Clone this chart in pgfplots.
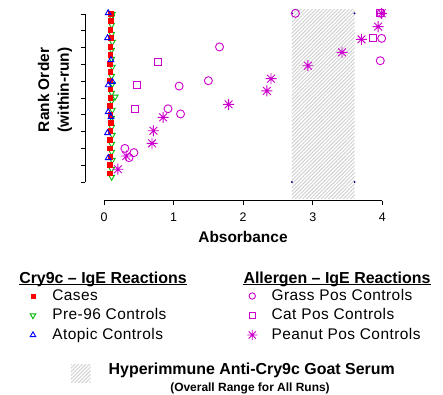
\documentclass[border=0pt]{standalone}
\usepackage{fontspec}
\setmainfont{Liberation Sans}
\newfontfamily\lsfont[LetterSpace=3]{Liberation Sans}
\usepackage{pgfplots}
\pgfplotsset{compat=1.18}
\usetikzlibrary{patterns.meta}
\definecolor{mag}{RGB}{204,0,204}
\definecolor{grn}{RGB}{0,185,0}
\definecolor{navy}{RGB}{0,0,128}
\pgfdeclareplotmark{rstar}{%
  \pgfpathmoveto{\pgfqpoint{-\pgfplotmarksize}{0pt}}\pgfpathlineto{\pgfqpoint{\pgfplotmarksize}{0pt}}%
  \pgfpathmoveto{\pgfqpoint{0pt}{-\pgfplotmarksize}}\pgfpathlineto{\pgfqpoint{0pt}{\pgfplotmarksize}}%
  \pgfpathmoveto{\pgfqpoint{-.7071\pgfplotmarksize}{-.7071\pgfplotmarksize}}\pgfpathlineto{\pgfqpoint{.7071\pgfplotmarksize}{.7071\pgfplotmarksize}}%
  \pgfpathmoveto{\pgfqpoint{-.7071\pgfplotmarksize}{.7071\pgfplotmarksize}}\pgfpathlineto{\pgfqpoint{.7071\pgfplotmarksize}{-.7071\pgfplotmarksize}}%
  \pgfusepathqstroke}
\begin{document}
\begin{tikzpicture}
\path[use as bounding box] (0,0) rectangle (443bp,395bp);
\begin{axis}[
  at={(85bp,194.3bp)}, anchor=south west,
  scale only axis, width=311bp, height=193.7bp,
  xmin=-0.273, xmax=4.196, ymin=-1.113, ymax=10.417,
  clip=false,
  axis lines*=left, axis line style={draw=none},
  tick align=outside, major tick length=4.5bp,
  tick style={black, line width=0.8bp},
  xtick={0,1,2,3,4}, ytick={0,1,...,10}, yticklabels={},
  /pgf/number format/assume math mode=true,
  ticklabel style={font=\fontsize{12.5}{14}\selectfont},
  xticklabel style={yshift=-4bp},
  xlabel={Absorbance},
  xlabel style={at={(axis description cs:0.508,-0.1874)}, anchor=center, font=\bfseries\fontsize{15.5}{18}\selectfont},
  ylabel={Rank Order\\(within-run)},
  ylabel style={at={(axis description cs:-0.0965,0.5715)}, anchor=center, align=center, font=\bfseries\fontsize{15.5}{20}\selectfont},
  legend columns=2,
  legend cell align=left,
  legend image code/.code={\path[draw=none, fill=none] (-10bp,-5bp) rectangle (19.3bp,5bp); \draw[#1] plot coordinates {(0bp,0bp)};},
  legend style={draw=none, fill=none, inner sep=0pt, outer sep=0pt, row sep=5.5bp, column sep=0bp,
    at={(axis description cs:-0.1994,-0.4559)}, anchor=north west,
    font=\lsfont\fontsize{15.5}{18}\selectfont,
    nodes={inner sep=0pt, text height=11bp, text depth=3bp}},
]
% hatched range of goat serum
\addplot[draw=none, forget plot, pattern={Lines[angle=45,distance=2.6bp,line width=1bp]}, pattern color=black!18]
  coordinates {(2.7,-1.01) (3.6,-1.01) (3.6,10.24) (2.7,10.24)} -- cycle;
\addplot[only marks, forget plot, mark=*, mark size=0.7bp, navy]
  coordinates {(2.7,0) (3.6,0) (2.7,10.04) (3.6,10.04)};
\draw[line width=0.8bp] (axis cs:0,-1.113) -- (axis cs:4,-1.113);
\draw[line width=0.8bp] (axis cs:-0.273,0) -- (axis cs:-0.273,10);
% Pre-96 controls
\addplot[only marks, forget plot, grn, mark=triangle, mark size=3.3bp, mark options={rotate=180, line width=0.9bp}]
  coordinates {(0.12,10.0) (0.11,9.82) (0.11,9.35) (0.11,8.81) (0.12,8.33) (0.11,7.86) (0.11,7.32) (0.12,6.85)
  (0.11,6.31) (0.12,5.83) (0.11,5.30) (0.16,5.07) (0.11,4.82) (0.12,4.29) (0.11,3.81) (0.11,3.27) (0.12,2.80)
  (0.11,2.26) (0.11,1.79) (0.12,1.31) (0.11,0.77) (0.11,0.30)};
% Cases
\addplot[only marks, forget plot, red, mark=square*, mark size=2.4bp, mark options={draw=red, fill=red}]
  coordinates {(0.10,10.04) (0.10,9.60) (0.09,9.05) (0.10,8.61) (0.09,8.05) (0.09,7.56) (0.08,7.06) (0.09,6.57)
  (0.08,6.03) (0.09,5.52) (0.09,5.04) (0.08,4.52) (0.09,3.99) (0.10,3.53) (0.09,3.05) (0.08,2.54) (0.08,2.01)
  (0.09,1.51) (0.08,1.01) (0.08,0.52)};
% Atopic controls
\addplot[only marks, forget plot, blue, mark=triangle, mark size=3.3bp, mark options={line width=0.9bp}]
  coordinates {(0.06,10.06) (0.05,8.57) (0.10,7.26) (0.12,5.97) (0.06,5.77) (0.06,4.17) (0.10,3.87) (0.05,2.92) (0.06,1.43)};
% Grass
\addplot[only marks, forget plot, mag, mark=o, mark size=4bp, mark options={line width=0.9bp}]
  coordinates {(0.30,2.0) (0.43,1.75) (0.36,1.45) (0.92,4.36) (1.10,4.05) (1.08,5.71) (1.50,6.03) (1.66,8.04)
  (2.75,10.04) (3.97,7.22) (3.99,8.55) (3.98,10.04)};
% Cat
\addplot[only marks, forget plot, mag, mark=square, mark size=3.5bp, mark options={line width=0.9bp}]
  coordinates {(0.78,7.14) (0.48,5.75) (0.44,4.33) (3.87,8.55) (3.97,10.04)};
% Peanut
\addplot[only marks, forget plot, mag, mark=rstar, mark size=5.5bp, mark options={line width=0.9bp}]
  coordinates {(0.20,0.76) (0.32,1.55) (0.69,2.30) (0.71,3.05) (0.85,3.85) (1.79,4.62) (2.34,5.42) (2.40,6.15)
  (2.93,6.92) (3.42,7.72) (3.70,8.49) (3.94,9.25) (3.99,10.04)};
% legend
\addlegendimage{red, mark=square*, mark size=2bp, mark options={draw=red, fill=red}}
\addlegendentry{\makebox[190bp][l]{Cases}}
\addlegendimage{mag, mark=o, mark size=3.2bp, mark options={line width=0.9bp}}
\addlegendentry{Grass Pos Controls}
\addlegendimage{grn, mark=triangle, mark size=3.2bp, mark options={rotate=180, line width=0.9bp}}
\addlegendentry{\makebox[190bp][l]{Pre-96 Controls}}
\addlegendimage{mag, mark=square, mark size=3.2bp, mark options={line width=0.9bp}}
\addlegendentry{Cat Pos Controls}
\addlegendimage{blue, mark=triangle, mark size=3.2bp, mark options={line width=0.9bp}}
\addlegendentry{\makebox[190bp][l]{Atopic Controls}}
\addlegendimage{mag, mark=rstar, mark size=5bp, mark options={line width=0.9bp}}
\addlegendentry{Peanut Pos Controls}
\end{axis}
\node (h1) [anchor=base, inner sep=0pt, font=\bfseries\fontsize{16}{19}\selectfont] at (103bp,111.7bp) {Cry9c -- IgE Reactions};
\draw[line width=1.2bp] ([yshift=-1.3bp]h1.base west) -- ([yshift=-1.3bp]h1.base east);
\node (h2) [anchor=base, inner sep=0pt, font=\bfseries\fontsize{16}{19}\selectfont] at (337bp,111.7bp) {Allergen -- IgE Reactions};
\draw[line width=1.2bp] ([yshift=-1.3bp]h2.base west) -- ([yshift=-1.3bp]h2.base east);
\fill[pattern={Lines[angle=45,distance=2.6bp,line width=1bp]}, pattern color=black!18] (71bp,12bp) rectangle (90.7bp,30bp);
\node[anchor=base, inner sep=0pt, font=\bfseries\fontsize{16}{19}\selectfont] at (251.7bp,20.5bp) {Hyperimmune Anti-Cry9c Goat Serum};
\node[anchor=base, inner sep=0pt, font=\bfseries\fontsize{12}{14}\selectfont] at (250bp,4bp) {(Overall Range for All Runs)};
\end{tikzpicture}
\end{document}
